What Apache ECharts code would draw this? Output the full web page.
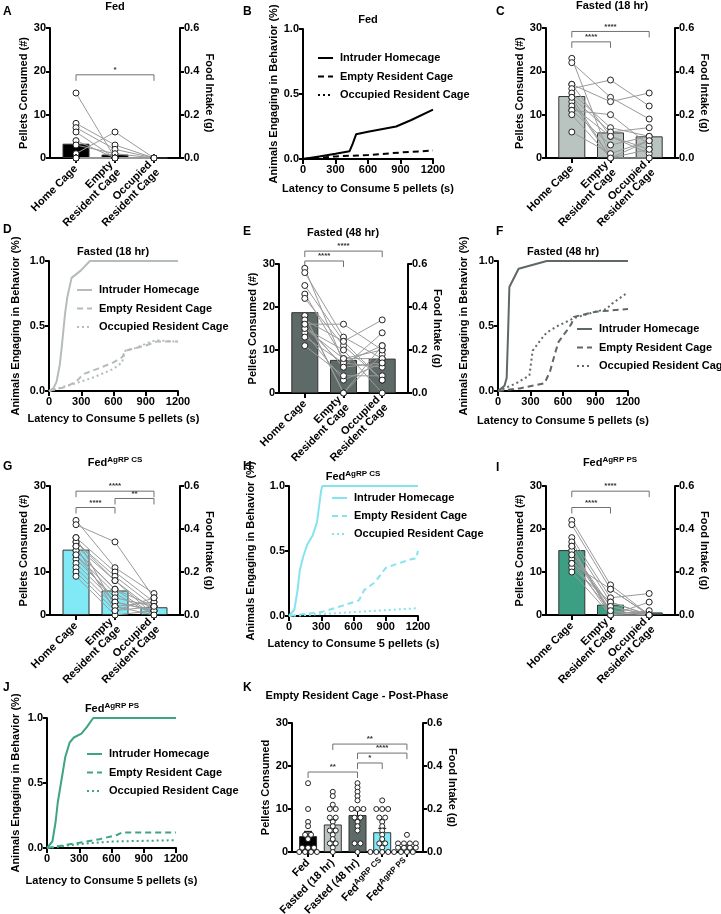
<!DOCTYPE html>
<html><head><meta charset="utf-8">
<script src="https://cdn.jsdelivr.net/npm/echarts@6/dist/echarts.min.js"></script>
<style>html,body{margin:0;padding:0;background:#fff}#c{width:721px;height:914px}</style>
</head><body><div id="c"></div><script>
const FF = '"Liberation Sans", Arial, Helvetica, sans-serif';
const bold = s => 'bold ' + s + 'px ' + FF;

// ---------- categories, legend names, axis ranges ----------
const cageCats = ['Home Cage', 'Empty\nResident Cage', 'Occupied\nResident Cage'];
const postCats = ['Fed', 'Fasted (18 hr)', 'Fasted (48 hr)', 'Fed^AgRP CS', 'Fed^AgRP PS'];
const legendNames = ['Intruder Homecage', 'Empty Resident Cage', 'Occupied Resident Cage'];
const pelletAxis = [0, 30, 10];
const intakeAxis = [0, 0.6, 0.2];
const fracAxis = [0, 1, 0.5];
const latencyAxis = [0, 1200, 300];

// ---------- A: Fed ----------
const aHome  = [15, 8, 7, 6, 4, 3, 1, 0, 0, 0, 0, 0, 0];
const aEmpty = [0, 3, 2, 0, 0, 1, 6, 0, 0, 0, 0, 0, 0];
const aOcc   = [0, 0, 0, 0, 0, 0, 0, 0, 0, 0, 0, 0, 0];
const aMeans = [3.3, 0.8, 0];
const sigA = [[0, 2, 19.2, '*']];

// ---------- C: Fasted 18 hr ----------
const cHome  = [23, 22, 17, 17, 16, 15, 14, 13, 12, 11, 11, 10, 6, 14];
const cEmpty = [0, 14, 5, 13, 18, 7, 6, 0, 5, 3, 10, 0, 1, 0];
const cOcc   = [4, 9, 2, 15, 12, 5, 7, 0, 1, 5, 3, 2, 4, 0];
const cMeans = [14.3, 5.9, 5.0];
const sigC = [[0, 1, 26.8, '****'], [0, 2, 29.2, '****']];

// ---------- E: Fasted 48 hr ----------
const eHome  = [29, 28, 25, 23, 22, 18, 16, 15, 14, 13, 11, 16, 18, 15, 17, 16];
const eEmpty = [7, 13, 12, 8, 11, 0, 6, 10, 3, 7, 4, 16, 0, 8, 12, 6];
const eOcc   = [11, 8, 17, 10, 3, 9, 14, 0, 7, 6, 4, 10, 11, 8, 3, 7];
const eMeans = [18.8, 7.7, 8.0];
const sigE = [[0, 1, 30.7, '****'], [0, 2, 33.0, '****']];

// ---------- G: Fed AgRP CS ----------
const gHome  = [22, 21, 18, 17, 16, 15, 14, 13, 12, 11, 10, 9, 17, 15, 14, 18, 16];
const gEmpty = [11, 17, 10, 9, 8, 6, 5, 4, 3, 2, 1, 0, 8, 6, 3, 2, 1];
const gOcc   = [5, 4, 3, 2, 1, 0, 0, 2, 1, 3, 4, 1, 0, 2, 1, 0, 2];
const gMeans = [15.2, 5.7, 1.8];
const sigG = [[0, 2, 28.8, '****'], [1, 2, 27.1, '**'], [0, 1, 25.0, '****']];

// ---------- I: Fed AgRP PS ----------
const iHome  = [22, 21, 18, 17, 16, 15, 14, 13, 12, 11, 10, 15, 14, 16, 12];
const iEmpty = [7, 6, 4, 3, 0, 2, 1, 0, 6, 3, 0, 1, 2, 0, 1];
const iOcc   = [0, 0, 5, 0, 3, 0, 0, 1, 0, 0, 0, 0, 0, 0, 0];
const iMeans = [15.1, 2.4, 0.6];
const sigI = [[0, 2, 28.8, '****'], [0, 1, 25.0, '****']];

// ---------- K: Empty resident cage post-phase ----------
const kFed  = [16, 10, 7, 6, 4, 4, 3, 1, 1, 1, 0, 0, 0, 0];
const kF18  = [14, 13, 11, 10, 10, 8, 8, 7, 6, 5, 4, 3, 2, 1, 2, 0, 5];
const kF48  = [16, 15, 14, 13, 12, 10, 10, 10, 8, 8, 7, 6, 5, 2, 0, 2];
const kCS   = [12, 10, 10, 10, 8, 8, 7, 6, 5, 4, 3, 2, 2, 1, 0, 0, 0, 0, 0];
const kPS   = [4, 2, 2, 2, 2, 1, 1, 1, 1, 0, 0, 0];
const kMeans = [3.7, 6.4, 8.6, 4.6, 1.3];
const kSem   = [1.1, 1.0, 1.1, 0.9, 0.4];
const sigK = [[1, 4, 25.1, '**'], [2, 4, 23.0, '****'], [2, 3, 20.7, '*'], [0, 2, 18.6, '**']];

// ---------- Latency curves [seconds, fraction] ----------
const bIntruder = [[0,0],[150,0.02],[300,0.04],[430,0.06],[460,0.12],[490,0.19],[600,0.21],[860,0.25],[1000,0.3],[1200,0.38]];
const bEmpty    = [[0,0],[300,0.02],[600,0.03],[900,0.05],[1200,0.065]];
const bOcc      = [[0,0],[1200,0]];

const dIntruder = [[0,0],[40,0.02],[70,0.07],[100,0.2],[120,0.35],[150,0.6],[170,0.72],[210,0.87],[300,0.93],[380,1],[1200,1]];
const dEmpty    = [[0,0],[150,0.03],[250,0.07],[320,0.13],[450,0.17],[600,0.22],[680,0.26],[710,0.31],[900,0.35],[1000,0.38],[1200,0.38]];
const dOcc      = [[0,0],[250,0.06],[400,0.1],[600,0.17],[680,0.22],[710,0.31],[800,0.33],[950,0.38],[1000,0.39],[1200,0.38]];

const fIntruder = [[0,0],[60,0.04],[80,0.1],[95,0.5],[105,0.8],[190,0.94],[450,1],[1200,1]];
const fEmpty    = [[0,0],[200,0.02],[430,0.06],[480,0.15],[530,0.3],[560,0.38],[640,0.47],[680,0.52],[700,0.57],[900,0.61],[1200,0.63]];
const fOcc      = [[0,0],[170,0.06],[290,0.12],[320,0.31],[400,0.4],[450,0.45],[550,0.5],[700,0.56],[900,0.61],[1000,0.63],[1050,0.67],[1150,0.73],[1200,0.76]];

const hIntruder = [[0,0],[50,0.05],[80,0.2],[100,0.35],[130,0.45],[170,0.55],[220,0.62],[260,0.72],[300,0.97],[310,1],[1200,1]];
const hEmpty    = [[0,0],[300,0.03],[500,0.08],[650,0.12],[700,0.2],[800,0.26],[900,0.37],[1000,0.4],[1150,0.44],[1180,0.44],[1200,0.5]];
const hOcc      = [[0,0],[400,0.02],[800,0.04],[1000,0.05],[1200,0.06]];

const jIntruder = [[0,0],[50,0.05],[80,0.2],[100,0.35],[130,0.5],[170,0.7],[210,0.81],[250,0.85],[320,0.88],[370,0.93],[430,1],[1200,1]];
const jEmpty    = [[0,0],[300,0.04],[500,0.07],[650,0.1],[700,0.12],[1200,0.12]];
const jOcc      = [[0,0],[300,0.03],[600,0.05],[1200,0.06]];

// ---------- styles ----------
const COL = {fed:'#000000', f18:'#b9c3bf', f48:'#5e6a67', cs:'#80e9f5', ps:'#3c9e82'};
const LCOL = {b:'#000000', d:'#b5bcb9', f:'#5f6866', h:'#84e4ef', j:'#3fa386'};
const AL = {color:'#000', fontSize:11, fontWeight:'bold', fontFamily:FF, margin:4};
const ALINE = {show:true, onZero:false, lineStyle:{color:'#000', width:2}};
const ATICK = {show:true, length:4, lineStyle:{color:'#000', width:2}};
const NTS = {color:'#000', fontSize:11, fontWeight:'bold', fontFamily:FF};
const RICH = {
  a:{fontSize:11, fontWeight:'bold', fontFamily:FF, color:'#000'},
  s:{fontSize:8, fontWeight:'bold', fontFamily:FF, color:'#000', padding:[0,0,6,0]}
};
function fmtSup(s){
  if (s.indexOf('^') >= 0){ const p = s.split('^'); return '{a|' + p[0] + '}{s|' + p[1] + '}'; }
  return s.split('\n').map(t => '{a|' + t + '}').join('\n');
}

const option = {animation:false, backgroundColor:'#fff', textStyle:{fontFamily:FF},
  grid:[], xAxis:[], yAxis:[], series:[], graphic:[]};

function swarm(g, k, step){
  const cnt = {}, seen = {};
  g.forEach(v => cnt[v] = (cnt[v] || 0) + 1);
  return g.map(v => { const j = seen[v] || 0; seen[v] = j + 1; return [k + (j - (cnt[v] - 1) / 2) * step, v]; });
}

function barPanel(p){
  const gi = option.grid.length;
  option.grid.push({left:p.rect[0], top:p.rect[1], width:p.rect[2], height:p.rect[3], outerBoundsMode:'none'});
  const n = p.cats.length, idx = p.cats.map((_, i) => i);
  const xi = option.xAxis.length;
  option.xAxis.push({gridIndex:gi, type:'value', min:-p.pad, max:n - 1 + p.pad,
    axisLine:ALINE, axisTick:Object.assign({}, ATICK, {length:5, customValues:idx}),
    axisLabel:Object.assign({}, AL, {customValues:idx, rotate:45, margin:9, rich:RICH,
      formatter:v => fmtSup(p.cats[Math.round(v)])}),
    splitLine:{show:false}});
  const yi = option.yAxis.length;
  option.yAxis.push({gridIndex:gi, type:'value', position:'left', min:pelletAxis[0], max:pelletAxis[1], interval:pelletAxis[2],
    axisLine:ALINE, axisTick:ATICK, axisLabel:AL, splitLine:{show:false},
    name:p.yName, nameLocation:'middle', nameRotate:90, nameGap:20, nameTextStyle:NTS});
  option.yAxis.push({gridIndex:gi, type:'value', position:'right', min:intakeAxis[0], max:intakeAxis[1], interval:intakeAxis[2],
    axisLine:ALINE, axisTick:ATICK, axisLabel:Object.assign({}, AL, {formatter:v => v.toFixed(1)}), splitLine:{show:false},
    name:'Food Intake (g)', nameLocation:'middle', nameRotate:-90, nameGap:24, nameTextStyle:NTS});
  option.series.push({type:'bar', xAxisIndex:xi, yAxisIndex:yi, barWidth:p.barW, silent:true, z:2,
    itemStyle:{borderColor:'#333', borderWidth:1},
    data:p.means.map((m, k) => ({value:[k, m], itemStyle:{color:p.colors[k]}}))});
  if (p.sem){
    option.series.push({type:'custom', xAxisIndex:xi, yAxisIndex:yi, silent:true, z:3,
      data:p.means.map((m, k) => [k, m, p.sem[k]]),
      renderItem:(params, api) => {
        const a = api.coord([api.value(0), api.value(1)]);
        const b = api.coord([api.value(0), api.value(1) + api.value(2)]);
        return {type:'group', children:[
          {type:'line', shape:{x1:a[0], y1:a[1], x2:b[0], y2:b[1]}, style:{stroke:'#000', lineWidth:1}},
          {type:'line', shape:{x1:b[0] - 4, y1:b[1], x2:b[0] + 4, y2:b[1]}, style:{stroke:'#000', lineWidth:1}}
        ]};
      }});
  }
  if (p.paired){
    option.series.push({type:'custom', xAxisIndex:xi, yAxisIndex:yi, silent:true, z:3,
      data:p.groups[0].map((_, i) => p.groups.map(g => g[i])),
      renderItem:(params, api) => ({type:'polyline',
        shape:{points:p.groups.map((_, k) => api.coord([k, api.value(k)]))},
        style:{stroke:'#9a9a9a', lineWidth:1, fill:null}})});
  }
  option.series.push({type:'custom', xAxisIndex:xi, yAxisIndex:yi, silent:true, z:3,
    data:p.sig.map(s => [s[0], s[2]]),
    renderItem:(params, api) => {
      const s = p.sig[params.dataIndex];
      const a = api.coord([s[0], s[2]]), b = api.coord([s[1], s[2]]);
      const d = 6;
      return {type:'group', children:[
        {type:'polyline', shape:{points:[[a[0], a[1] + d], [a[0], a[1]], [b[0], b[1]], [b[0], b[1] + d]]},
          style:{stroke:'#707070', lineWidth:1, fill:null}},
        {type:'text', style:{text:s[3], x:(a[0] + b[0]) / 2, y:a[1] - 1, align:'center', verticalAlign:'bottom',
          font:bold(8), fill:'#333'}}
      ]};
    }});
  option.series.push({type:'scatter', xAxisIndex:xi, yAxisIndex:yi, symbolSize:p.sym, clip:false, silent:true, z:5,
    itemStyle:{color:'#fff', borderColor:'#222', borderWidth:1, opacity:1},
    data:p.groups.flatMap((g, k) => p.paired ? g.map(v => [k, v]) : swarm(g, k, p.step))});
}

function linePanel(p){
  const gi = option.grid.length;
  option.grid.push({left:p.rect[0], top:p.rect[1], width:p.rect[2], height:p.rect[3], outerBoundsMode:'none'});
  const xi = option.xAxis.length;
  option.xAxis.push({gridIndex:gi, type:'value', min:latencyAxis[0], max:latencyAxis[1], interval:latencyAxis[2],
    axisLine:ALINE, axisTick:Object.assign({}, ATICK, {length:5}),
    axisLabel:Object.assign({}, AL, {margin:5, formatter:v => String(Math.round(v))}), splitLine:{show:false},
    name:'Latency to Consume 5 pellets (s)', nameLocation:'middle', nameGap:p.xGap, nameTextStyle:NTS});
  const yi = option.yAxis.length;
  option.yAxis.push({gridIndex:gi, type:'value', min:fracAxis[0], max:fracAxis[1], interval:fracAxis[2],
    axisLine:ALINE, axisTick:ATICK, axisLabel:Object.assign({}, AL, {formatter:v => v.toFixed(1)}), splitLine:{show:false},
    name:'Animals Engaging in Behavior (%)', nameLocation:'middle', nameRotate:90, nameGap:p.yGap, nameTextStyle:NTS});
  const dashes = ['solid', [6, 4], [2, 3]];
  p.curves.forEach((c, i) => option.series.push({type:'line', name:legendNames[i], xAxisIndex:xi, yAxisIndex:yi,
    data:c, showSymbol:false, symbol:'none', silent:true, clip:false, z:3,
    lineStyle:{color:p.color, width:2, type:dashes[i]}}));
  // legend drawn as graphics
  legendNames.forEach((nm, i) => {
    const y = p.leg[1] + i * p.leg[2];
    option.graphic.push({type:'line', silent:true, shape:{x1:p.leg[0], y1:y, x2:p.leg[0] + 15, y2:y},
      style:{stroke:p.color, lineWidth:2, lineDash:i === 0 ? null : dashes[i]}});
    option.graphic.push({type:'text', silent:true, x:p.leg[0] + 22, y:y,
      style:{text:nm, font:bold(11), fill:'#000', align:'left', verticalAlign:'middle'}});
  });
}

function text(x, y, t, font, align){
  const o = {type:'text', silent:true, x:x, y:y, style:{font:font, fill:'#000', align:align || 'center', verticalAlign:'middle'}};
  if (t.indexOf('^') >= 0){
    const p = t.split('^');
    o.style.text = '{a|' + p[0] + '}{s|' + p[1] + '}';
    o.style.rich = {a:{font:font, fill:'#000'}, s:{font:bold(8), fill:'#000', padding:[0,0,6,0]}};
  } else o.style.text = t;
  option.graphic.push(o);
}

// ---------- layout ----------
barPanel({rect:[50,28,130,130], pad:0.667, barW:27, sym:6, cats:cageCats, groups:[aHome,aEmpty,aOcc], means:aMeans,
  colors:[COL.fed,COL.fed,COL.fed], sig:sigA, paired:true, yName:'Pellets Consumed (#)'});
barPanel({rect:[546,28,129,130], pad:0.667, barW:27, sym:6, cats:cageCats, groups:[cHome,cEmpty,cOcc], means:cMeans,
  colors:[COL.f18,COL.f18,COL.f18], sig:sigC, paired:true, yName:'Pellets Consumed (#)'});
barPanel({rect:[279,264,129,129], pad:0.667, barW:27, sym:6, cats:cageCats, groups:[eHome,eEmpty,eOcc], means:eMeans,
  colors:[COL.f48,COL.f48,COL.f48], sig:sigE, paired:true, yName:'Pellets Consumed (#)'});
barPanel({rect:[50,486,130,129], pad:0.667, barW:27, sym:6, cats:cageCats, groups:[gHome,gEmpty,gOcc], means:gMeans,
  colors:[COL.cs,COL.cs,COL.cs], sig:sigG, paired:true, yName:'Pellets Consumed (#)'});
barPanel({rect:[546,486,129,129], pad:0.667, barW:27, sym:6, cats:cageCats, groups:[iHome,iEmpty,iOcc], means:iMeans,
  colors:[COL.ps,COL.ps,COL.ps], sig:sigI, paired:true, yName:'Pellets Consumed (#)'});
barPanel({rect:[292,723,131,129], pad:0.65, barW:18, sym:5, step:0.24, cats:postCats, groups:[kFed,kF18,kF48,kCS,kPS], means:kMeans, sem:kSem,
  colors:[COL.fed,COL.f18,COL.f48,COL.cs,COL.ps], sig:sigK, paired:false, yName:'Pellets Consumed'});

linePanel({rect:[303,29,130,130], color:LCOL.b, curves:[bIntruder,bEmpty,bOcc], leg:[318,58,18.5], xGap:24, yGap:22});
linePanel({rect:[49,261,129,130], color:LCOL.d, curves:[dIntruder,dEmpty,dOcc], leg:[77,290,18.5], xGap:22, yGap:28});
linePanel({rect:[498,261,130,130], color:LCOL.f, curves:[fIntruder,fEmpty,fOcc], leg:[577,329,18.5], xGap:24, yGap:29});
linePanel({rect:[289,486,129,130], color:LCOL.h, curves:[hIntruder,hEmpty,hOcc], leg:[332,498,18], xGap:22, yGap:33});
linePanel({rect:[47,718,129,130], color:LCOL.j, curves:[jIntruder,jEmpty,jOcc], leg:[87,754,18.5], xGap:27, yGap:26});

// titles
text(115, 7, 'Fed', bold(11));
text(368, 20, 'Fed', bold(11));
text(612, 6, 'Fasted (18 hr)', bold(11));
text(113, 252, 'Fasted (18 hr)', bold(11));
text(343, 233, 'Fasted (48 hr)', bold(11));
text(563, 252, 'Fasted (48 hr)', bold(11));
text(115, 463, 'Fed^AgRP CS', bold(11));
text(353, 477, 'Fed^AgRP CS', bold(11));
text(610, 463, 'Fed^AgRP PS', bold(11));
text(112, 709, 'Fed^AgRP PS', bold(11));
text(357, 696, 'Empty Resident Cage - Post-Phase', bold(11));
// panel letters
[['A',3,12],['B',243,12],['C',496,12],['D',3,230],['E',243,232],['F',496,232],['G',3,467],['H',243,467],['I',496,468],['J',3,688],['K',243,688]]
  .forEach(l => text(l[1], l[2], l[0], bold(12), 'left'));

const chart = echarts.init(document.getElementById('c'), null, {renderer:'canvas'});
chart.setOption(option);
</script></body></html>
